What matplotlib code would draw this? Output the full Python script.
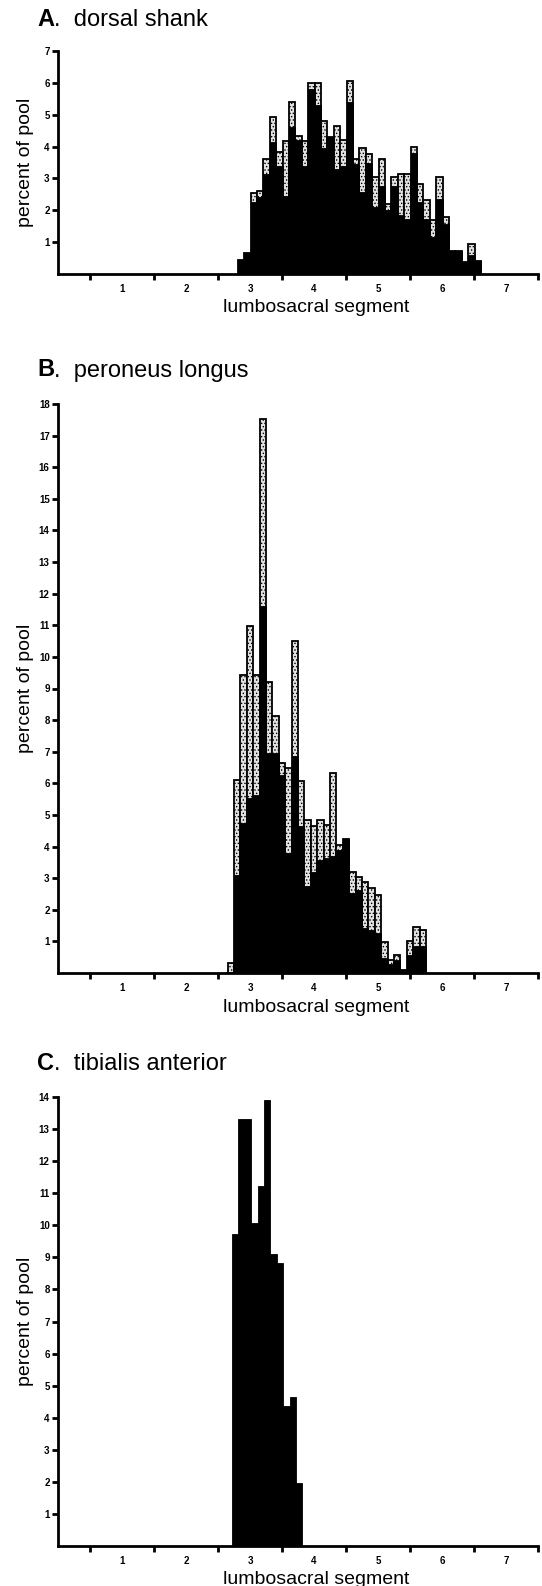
import numpy as np
import matplotlib.pyplot as plt

plt.rcParams['font.family'] = ['Liberation Sans', 'DejaVu Sans']
plt.rcParams['hatch.linewidth'] = 0.6
plt.rcParams['hatch.color'] = '#5a5a5a'

# segment boundaries get the tick marks, segment numbers sit between them
seg_bounds = [0.5, 1.5, 2.5, 3.5, 4.5, 5.5, 6.5, 7.5]
seg_numbers = [1, 2, 3, 4, 5, 6, 7]
bin_width = 0.1

# A. dorsal shank: total height (stippled top) and black part, per 0.1-segment bin
a_start = 2.81
a_total = [0.45, 0.67, 2.54, 2.59, 3.62, 4.93, 3.83, 4.19, 5.41, 4.33,
           4.19, 6.0, 6.0, 4.81, 4.31, 4.64, 4.2, 6.07, 3.6, 3.96,
           3.76, 3.03, 3.6, 2.2, 3.03, 3.14, 3.14, 4.0, 2.83, 2.31,
           1.69, 3.03, 1.79, 0.72, 0.72, 0.39, 0.93, 0.4]
a_black = [0.45, 0.67, 2.26, 2.41, 3.14, 4.14, 3.4, 2.46, 4.6, 4.2,
           3.4, 5.8, 5.31, 3.96, 4.31, 3.29, 3.4, 5.41, 3.45, 2.57,
           3.5, 2.1, 2.77, 2.0, 2.77, 1.84, 1.74, 3.8, 2.26, 1.74,
           1.17, 2.36, 1.58, 0.72, 0.72, 0.39, 0.6, 0.4]

# B. peroneus longus
b_start = 2.65
b_total = [0.31, 6.11, 9.44, 10.97, 9.44, 17.52, 9.2, 8.14, 6.64, 6.48,
           10.5, 6.06, 4.83, 4.66, 4.85, 4.69, 6.33, 4.05, 4.23, 3.21,
           3.05, 2.89, 2.68, 2.47, 0.99, 0.41, 0.57, 0.1, 1.0, 1.45, 1.37]
b_black = [0.0, 3.1, 4.74, 5.53, 5.64, 11.6, 6.96, 6.96, 6.27, 3.79,
           6.85, 4.64, 2.76, 3.21, 3.58, 3.63, 3.69, 3.9, 4.23, 2.52,
           2.63, 1.41, 1.36, 1.26, 0.46, 0.3, 0.4, 0.1, 0.57, 0.84, 0.84]

# C. tibialis anterior (all black)
c_start = 2.72
c_total = [9.72, 13.31, 13.31, 10.07, 11.22, 13.91, 9.11, 8.82, 4.37, 4.66, 1.97]

W, H = 542, 1586
fig = plt.figure(figsize=(W / 100, H / 100), dpi=100)

# letter, name, start, total, black, ymax, axes top px, axes bottom px, title y px
panels = [
    ('A', 'dorsal shank', a_start, a_total, a_black, 7, 51, 274, 20),
    ('B', 'peroneus longus', b_start, b_total, b_black, 18, 404, 973, 370),
    ('C', 'tibialis anterior', c_start, c_total, None, 14, 1097, 1546, 1063),
]

for letter, name, start, total, black, ymax, top, bottom, title_y in panels:
    ax = fig.add_axes([58 / W, 1 - bottom / H, 480 / W, (bottom - top) / H])
    x = start + bin_width * np.arange(len(total))
    if black is None:
        ax.bar(x, total, width=bin_width, align='edge', color='black',
               edgecolor='black', linewidth=0.6)
    else:
        # stippled part: dotted grey column with black outline
        ax.bar(x, total, width=bin_width, align='edge', color='#e2e2e2',
               edgecolor='black', linewidth=1.3, hatch='.....')
        ax.bar(x, black, width=bin_width, align='edge', color='black',
               edgecolor='black', linewidth=0.6)

    ax.set_xlim(0, 7.5)
    ax.set_ylim(0, ymax)
    for s in ['top', 'right']:
        ax.spines[s].set_visible(False)
    for s in ['left', 'bottom']:
        ax.spines[s].set_linewidth(2.0)

    ax.set_xticks(seg_bounds)
    ax.set_xticklabels([])
    ax.set_xticks(seg_numbers, minor=True)
    ax.set_xticklabels([str(n) for n in seg_numbers], minor=True,
                       fontsize=7, fontweight='bold')
    ax.tick_params(axis='x', which='major', direction='out', length=4, width=2)
    ax.tick_params(axis='x', which='minor', length=0, pad=7)

    ax.set_yticks(range(1, ymax + 1))
    ax.set_yticklabels([str(v) for v in range(1, ymax + 1)],
                       fontsize=7, fontweight='bold')
    ax.tick_params(axis='y', direction='out', length=4, width=2, pad=2)

    t1 = fig.text(37 / W, 1 - title_y / H, letter, fontsize=17,
                  fontweight='bold', ha='left', va='center')
    ax.annotate('.  ' + name, xy=(1, 0), xycoords=t1, ha='left',
                va='bottom', fontsize=17, annotation_clip=False)

    fig.text(26 / W, 1 - (top + bottom) / 2 / H, 'percent of pool',
             rotation=90, ha='center', va='center', fontsize=14)
    fig.text(316 / W, 1 - (bottom + 34) / H, 'lumbosacral segment',
             ha='center', va='center', fontsize=14)

fig.savefig('out.png', dpi=100)
